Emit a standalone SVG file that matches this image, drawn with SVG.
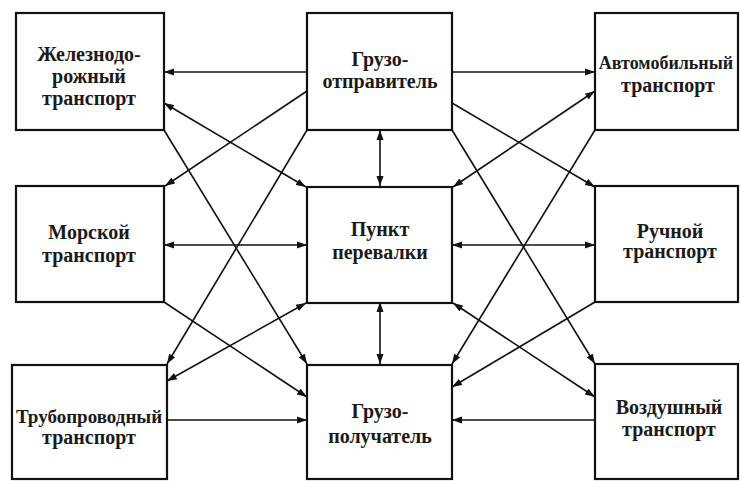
<svg xmlns="http://www.w3.org/2000/svg" width="740" height="481" viewBox="0 0 740 481">
<style>
.box{fill:#fff;stroke:#111;stroke-width:2.2}
.t{font-family:"Liberation Serif","Times New Roman",serif;font-weight:bold;font-size:20px;fill:#1a1a1a;text-anchor:middle}
.c{stroke:#111;stroke-width:1.6;fill:none}
.e{marker-end:url(#ah)}
.b{marker-end:url(#ah);marker-start:url(#ahs)}
</style>
<defs>
<marker id="ah" markerUnits="userSpaceOnUse" markerWidth="11" markerHeight="8" refX="10" refY="4" orient="auto"><path d="M0,0.5 L10,4 L0,7.5 z" fill="#111"/></marker>
<marker id="ahs" markerUnits="userSpaceOnUse" markerWidth="11" markerHeight="8" refX="10" refY="4" orient="auto-start-reverse"><path d="M0,0.5 L10,4 L0,7.5 z" fill="#111"/></marker>
</defs>
<rect width="740" height="481" fill="#fff"/>
<g id="connectors">
<line class="c e" x1="307" y1="72" x2="164" y2="72"/>
<line class="c e" x1="452" y1="72" x2="595" y2="72"/>
<line class="c e" x1="307" y1="91" x2="165" y2="186"/>
<line class="c e" x1="307" y1="130" x2="167" y2="364"/>
<line class="c e" x1="164" y1="130" x2="307" y2="364"/>
<line class="c b" x1="164" y1="103" x2="306" y2="187"/>
<line class="c b" x1="595" y1="91" x2="453" y2="187"/>
<line class="c b" x1="164" y1="245" x2="307" y2="245"/>
<line class="c e" x1="164" y1="302" x2="307" y2="397"/>
<line class="c b" x1="167" y1="381" x2="306" y2="303"/>
<line class="c e" x1="167" y1="420" x2="307" y2="420"/>
<line class="c e" x1="452" y1="103" x2="595" y2="187"/>
<line class="c e" x1="452" y1="130" x2="595" y2="364"/>
<line class="c e" x1="595" y1="130" x2="452" y2="364"/>
<line class="c b" x1="452" y1="245" x2="595" y2="245"/>
<line class="c e" x1="595" y1="302" x2="452" y2="387"/>
<line class="c b" x1="453" y1="303" x2="595" y2="397"/>
<line class="c e" x1="595" y1="420" x2="452" y2="420"/>
<line class="c b" x1="380" y1="130" x2="380" y2="186"/>
<line class="c b" x1="380" y1="302" x2="380" y2="364"/>
</g>
<g id="rail"><rect class="box" x="16" y="13" width="148" height="117"/>
<text class="t" x="89" y="61">Железнодо-</text><text class="t" x="89" y="83">рожный</text><text class="t" x="89" y="105">транспорт</text></g>
<g id="shipper"><rect class="box" x="307" y="13" width="145" height="117"/>
<text class="t" x="380" y="66">Грузо-</text><text class="t" x="380" y="88">отправитель</text></g>
<g id="auto"><rect class="box" x="595" y="13" width="143" height="117"/>
<text class="t" x="666" y="69" style="font-size:18px">Автомобильный</text><text class="t" x="668" y="92">транспорт</text></g>
<g id="sea"><rect class="box" x="16" y="186" width="148" height="116"/>
<text class="t" x="89" y="239">Морской</text><text class="t" x="89" y="262">транспорт</text></g>
<g id="transfer"><rect class="box" x="307" y="187" width="145" height="116"/>
<text class="t" x="380" y="236">Пункт</text><text class="t" x="380" y="259">перевалки</text></g>
<g id="manual"><rect class="box" x="595" y="186" width="143" height="116"/>
<text class="t" x="670" y="238">Ручной</text><text class="t" x="670" y="258">транспорт</text></g>
<g id="pipe"><rect class="box" x="12" y="365" width="155" height="114"/>
<text class="t" x="89" y="423" style="font-size:19px">Трубопроводный</text><text class="t" x="89" y="444">транспорт</text></g>
<g id="consignee"><rect class="box" x="307" y="365" width="145" height="114"/>
<text class="t" x="380" y="418">Грузо-</text><text class="t" x="380" y="443">получатель</text></g>
<g id="air"><rect class="box" x="595" y="364" width="143" height="115"/>
<text class="t" x="669" y="414">Воздушный</text><text class="t" x="669" y="436">транспорт</text></g>
</svg>
